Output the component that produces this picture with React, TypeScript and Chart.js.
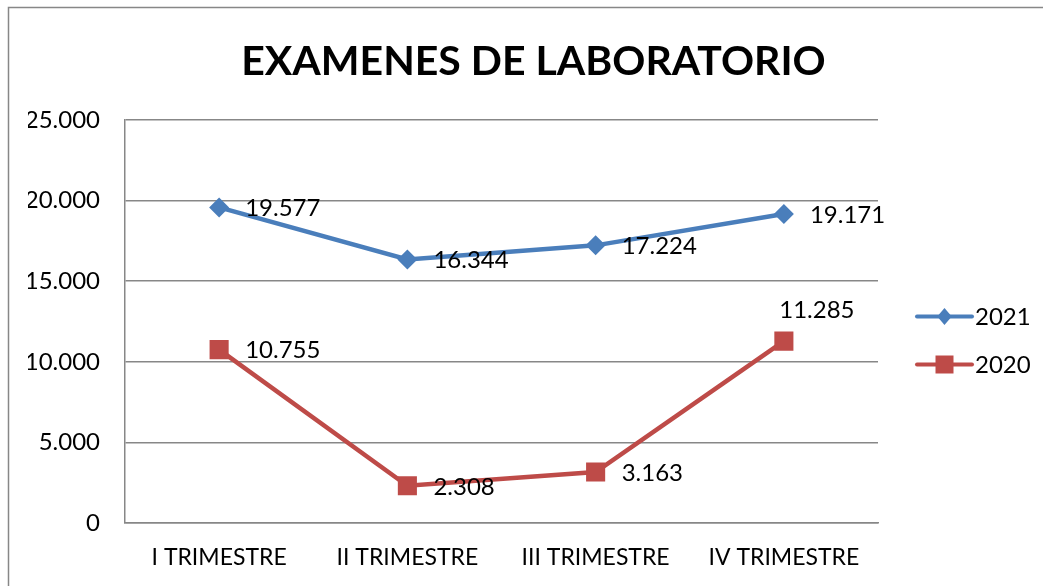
import React, { useEffect, useRef } from 'react';
import { Chart, registerables } from 'chart.js';

Chart.register(...registerables);

const categories = ['I TRIMESTRE', 'II TRIMESTRE', 'III TRIMESTRE', 'IV TRIMESTRE'];
const series2021 = [19577, 16344, 17224, 19171];
const series2020 = [10755, 2308, 3163, 11285];
const seriesNames = ['2021', '2020'];
const yMin = 0;
const yMax = 25000;
const yStep = 5000;
const titleText = 'EXAMENES DE LABORATORIO';
const labelPos2021 = ['right', 'right', 'right', 'right'];
const labelPos2020 = ['right', 'right', 'right', 'top'];

const BLUE = '#4A7EBB';
const RED = '#BE4B48';
const GRID = '#878787';
const FONT = 'Lato, "Open Sans", sans-serif';

const fmt = (v: number) => String(Math.round(v)).replace(/\B(?=(\d{3})+(?!\d))/g, '.');

const framePlugin = {
  id: 'frame',
  beforeDraw(chart: any) {
    const ctx = chart.ctx;
    ctx.save();
    ctx.fillStyle = '#ffffff';
    ctx.fillRect(0, 0, chart.width, chart.height);
    ctx.strokeStyle = GRID;
    ctx.lineWidth = 1.5;
    ctx.beginPath();
    ctx.moveTo(8.5, chart.height + 5);
    ctx.lineTo(8.5, 7.5);
    ctx.lineTo(chart.width + 5, 7.5);
    ctx.stroke();
    ctx.restore();
  },
};

const titlePlugin = {
  id: 'customTitle',
  afterDraw(chart: any) {
    const ctx = chart.ctx;
    ctx.save();
    ctx.font = `bold 41px ${FONT}`;
    ctx.fillStyle = '#000000';
    ctx.textAlign = 'center';
    ctx.textBaseline = 'middle';
    ctx.fillText(titleText, chart.width / 2 + 12, 62);
    ctx.restore();
  },
};

function drawMarker(ctx: any, style: string, x: number, y: number, r: number, color: string) {
  ctx.fillStyle = color;
  ctx.beginPath();
  if (style === 'rectRot') {
    ctx.moveTo(x, y - r);
    ctx.lineTo(x + r * 0.85, y);
    ctx.lineTo(x, y + r);
    ctx.lineTo(x - r * 0.85, y);
    ctx.closePath();
  } else {
    ctx.rect(x - r, y - r, 2 * r, 2 * r);
  }
  ctx.fill();
}

const legendPlugin = {
  id: 'customLegend',
  afterDraw(chart: any) {
    const ctx = chart.ctx;
    const area = chart.chartArea;
    const cy = (area.top + area.bottom) / 2 - 5;
    const x0 = area.right + 39;
    const x1 = area.right + 94;
    ctx.save();
    chart.data.datasets.forEach((ds: any, i: number) => {
      const y = cy + i * 48;
      ctx.strokeStyle = ds.borderColor;
      ctx.lineWidth = 4;
      ctx.lineCap = 'round';
      ctx.beginPath();
      ctx.moveTo(x0, y);
      ctx.lineTo(x1, y);
      ctx.stroke();
      drawMarker(ctx, ds.pointStyle, (x0 + x1) / 2, y, ds.pointStyle === 'rectRot' ? 8.5 : 9, ds.borderColor);
      ctx.fillStyle = '#000000';
      ctx.font = `24px ${FONT}`;
      ctx.textAlign = 'left';
      ctx.textBaseline = 'middle';
      ctx.fillText(ds.label, x1 + 3, y + 1);
    });
    ctx.restore();
  },
};

const dataLabelPlugin = {
  id: 'dataLabels',
  afterDatasetsDraw(chart: any) {
    const ctx = chart.ctx;
    ctx.save();
    ctx.font = `24px ${FONT}`;
    ctx.fillStyle = '#000000';
    chart.data.datasets.forEach((ds: any, i: number) => {
      const meta = chart.getDatasetMeta(i);
      meta.data.forEach((pt: any, j: number) => {
        const pos = ds.labelPos[j];
        const text = fmt(ds.data[j]);
        if (pos === 'top') {
          ctx.textAlign = 'center';
          ctx.textBaseline = 'middle';
          ctx.fillText(text, pt.x + 33, pt.y - 31);
        } else {
          ctx.textAlign = 'left';
          ctx.textBaseline = 'middle';
          ctx.fillText(text, pt.x + 26, pt.y + 1);
        }
      });
    });
    ctx.restore();
  },
};

export default function App() {
  const canvasRef = useRef<HTMLCanvasElement | null>(null);

  useEffect(() => {
    if (!canvasRef.current) return;
    const chart = new Chart(canvasRef.current, {
      type: 'line',
      data: {
        labels: categories,
        datasets: [
          {
            label: seriesNames[0],
            data: series2021,
            borderColor: BLUE,
            backgroundColor: BLUE,
            borderWidth: 4.5,
            pointStyle: 'rectRot',
            pointRadius: 10,
            pointHoverRadius: 10,
            pointBorderWidth: 0,
            tension: 0,
            labelPos: labelPos2021,
          } as any,
          {
            label: seriesNames[1],
            data: series2020,
            borderColor: RED,
            backgroundColor: RED,
            borderWidth: 4.5,
            pointStyle: 'rect',
            pointRadius: 13.5,
            pointHoverRadius: 13.5,
            pointBorderWidth: 0,
            tension: 0,
            labelPos: labelPos2020,
          } as any,
        ],
      },
      options: {
        animation: false,
        responsive: true,
        maintainAspectRatio: false,
        layout: { padding: { left: 28, right: 165, top: 120, bottom: 14 } },
        plugins: {
          legend: { display: false },
          title: { display: false },
          tooltip: { enabled: false },
        },
        scales: {
          x: {
            offset: true,
            grid: { display: false, drawTicks: false },
            border: { display: true, color: GRID, width: 1.5 },
            ticks: { color: '#000000', font: { family: FONT, size: 23 }, padding: 21, maxRotation: 0 },
            afterFit: (scale: any) => { scale.height = 49; },
          },
          y: {
            min: yMin,
            max: yMax,
            grid: { color: GRID, lineWidth: 1.5, drawTicks: false },
            border: { display: true, color: GRID, width: 1.5 },
            ticks: {
              stepSize: yStep,
              color: '#000000',
              font: { family: FONT, size: 24 },
              padding: 25,
              callback: (v: any) => fmt(Number(v)),
            },
            afterFit: (scale: any) => { scale.width = 97; },
          },
        },
      },
      plugins: [framePlugin, titlePlugin, legendPlugin, dataLabelPlugin],
    });
    return () => chart.destroy();
  }, []);

  return (
    <div style={{ position: 'fixed', left: 0, top: 0, width: 1043, height: 586 }}>
      <canvas ref={canvasRef} />
    </div>
  );
}
